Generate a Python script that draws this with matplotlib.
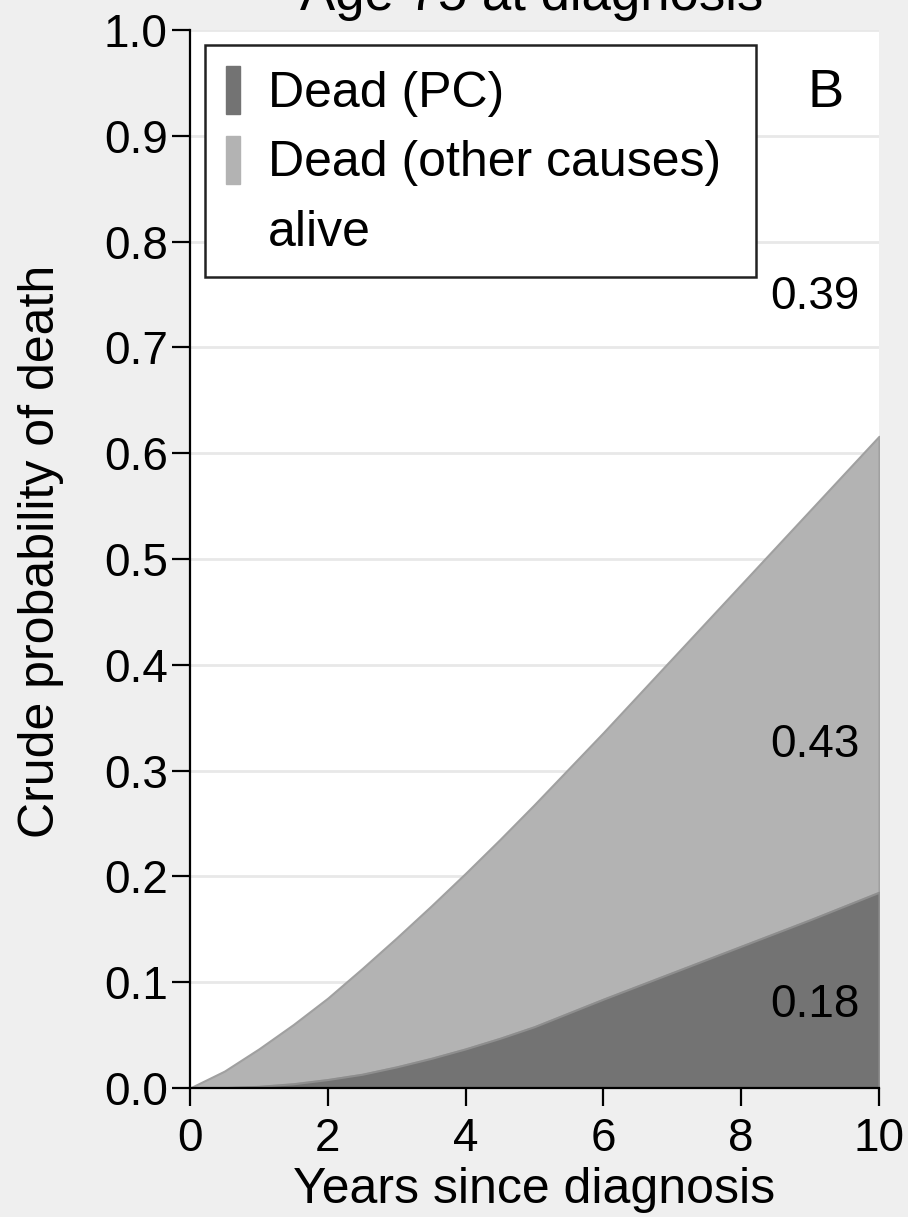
import matplotlib
matplotlib.use("Agg")
import matplotlib.pyplot as plt
from matplotlib.patches import Patch

plt.rcParams['font.family'] = ['Liberation Sans', 'DejaVu Sans']

# Data
years = [0, 0.5, 1, 1.5, 2, 2.5, 3, 3.5, 4, 4.5, 5, 6, 7, 8, 9, 10]
dead_pc = [0.0, 0.0003, 0.0015, 0.004, 0.008, 0.013, 0.020, 0.028, 0.037, 0.047,
           0.058, 0.084, 0.109, 0.134, 0.159, 0.185]
dead_total = [0.0, 0.016, 0.037, 0.060, 0.085, 0.113, 0.142, 0.172, 0.203, 0.235,
              0.268, 0.336, 0.406, 0.476, 0.546, 0.616]
labels_vals = ["0.39", "0.43", "0.18"]
label_y = [0.748, 0.324, 0.078]
legend_labels = ["Dead (PC)", "Dead (other causes)", "alive"]
yticks = [0.0, 0.1, 0.2, 0.3, 0.4, 0.5, 0.6, 0.7, 0.8, 0.9, 1.0]
xticks = [0, 2, 4, 6, 8, 10]

dark = "#737373"
light = "#b3b3b3"
bg = "#efefef"

fig = plt.figure(figsize=(9.08, 12.17), dpi=100, facecolor=bg)
ax = fig.add_axes([190/908, 1 - 1088/1217, 689/908, 1058/1217])
ax.set_facecolor("white")

ax.fill_between(years, 0, dead_pc, facecolor=dark, edgecolor="#8e8e8e", linewidth=1.5, zorder=3)
ax.fill_between(years, dead_pc, dead_total, facecolor=light, edgecolor="#a0a0a0", linewidth=1.5, zorder=2)

ax.set_xlim(0, 10)
ax.set_ylim(0, 1.0)
ax.set_yticks(yticks)
ax.set_yticklabels([f"{v:.1f}" for v in yticks])
ax.set_xticks(xticks)
ax.set_xticklabels([str(v) for v in xticks])
ax.yaxis.grid(True, color="#e8e8e8", linewidth=2, zorder=0)
ax.set_axisbelow(True)
for s in ["top", "right"]:
    ax.spines[s].set_visible(False)
for s in ["left", "bottom"]:
    ax.spines[s].set_linewidth(1.6)
    ax.spines[s].set_color("black")
    ax.spines[s].set_zorder(5)
ax.tick_params(axis="both", length=13, width=1.6, labelsize=33, color="black")
ax.tick_params(axis="x", pad=8)
ax.tick_params(axis="y", pad=3)

ax.set_xlabel("Years since diagnosis", fontsize=36, labelpad=4)
ax.set_ylabel("Crude probability of death", fontsize=36)
ax.yaxis.set_label_coords((64 - 190) / 689, 0.507)

for t, yv in zip(labels_vals, label_y):
    ax.text(9.72, yv, t, fontsize=33, ha="right", va="center", zorder=6)
ax.text(9.23, 0.94, "B", fontsize=39, ha="center", va="center", zorder=6)

fig.text(532/908, 1 - 10/1217, "Age 75 at diagnosis", fontsize=38, ha="center", va="baseline")

handles = [Patch(facecolor=dark, edgecolor=dark),
           Patch(facecolor=light, edgecolor=light),
           Patch(facecolor="white", edgecolor="white")]
leg = ax.legend(handles, legend_labels, loc="upper left",
                bbox_to_anchor=(15/689, 1043/1058, 551/689, 0.0), mode="expand",
                fontsize=36, frameon=True, fancybox=False, framealpha=1,
                edgecolor="#222222", handlelength=0.28, handleheight=1.1,
                handletextpad=0.55, labelspacing=0.37, borderpad=0.42, borderaxespad=0)
leg.get_frame().set_linewidth(1.8)
leg.set_zorder(7)

fig.savefig("out.png", dpi=100, facecolor=bg)
